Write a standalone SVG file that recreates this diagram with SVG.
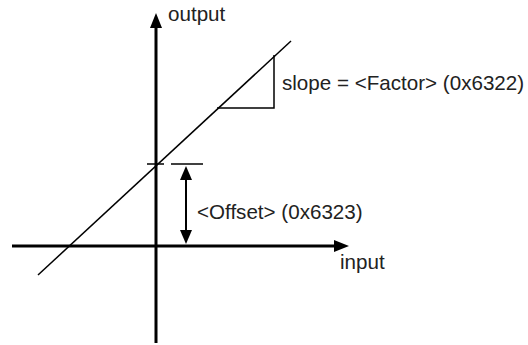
<svg xmlns="http://www.w3.org/2000/svg" width="528" height="345" viewBox="0 0 528 345">
<style>
.axis{stroke:#000;stroke-width:3;fill:none}
.thin{stroke:#000;stroke-width:1.5;fill:none}
.dim{stroke:#000;stroke-width:2;fill:none}
text{font-family:"Liberation Sans",Arial,sans-serif;font-size:20.6px;fill:#222}
</style>
<rect width="528" height="345" fill="#fff"/>
<g id="connectors">
<line id="y-axis" class="axis" x1="156" y1="343" x2="156" y2="26"/>
<polygon points="156,13 150,28 162,28" fill="#000"/>
<line id="x-axis" class="axis" x1="12" y1="246" x2="336" y2="246"/>
<polygon points="349,246 334,240 334,252" fill="#000"/>
<line id="line" class="thin" x1="38" y1="275" x2="291" y2="41"/>
<polyline id="slope-triangle" class="thin" points="274,55 274,108 217,108"/>
<line class="thin" x1="147" y1="164" x2="164" y2="164"/>
<line class="thin" x1="171" y1="164" x2="203" y2="164"/>
<line class="dim" x1="186" y1="178" x2="186" y2="232"/>
<polygon points="186,166 180,180 192,180" fill="#000"/>
<polygon points="186,244 180,230 192,230" fill="#000"/>
</g>
<g id="label-output"><text x="168" y="21">output</text></g>
<g id="label-input"><text x="340" y="269">input</text></g>
<g id="label-slope"><text x="282" y="90">slope = &lt;Factor&gt; (0x6322)</text></g>
<g id="label-offset"><text x="197" y="219">&lt;Offset&gt; (0x6323)</text></g>
</svg>
